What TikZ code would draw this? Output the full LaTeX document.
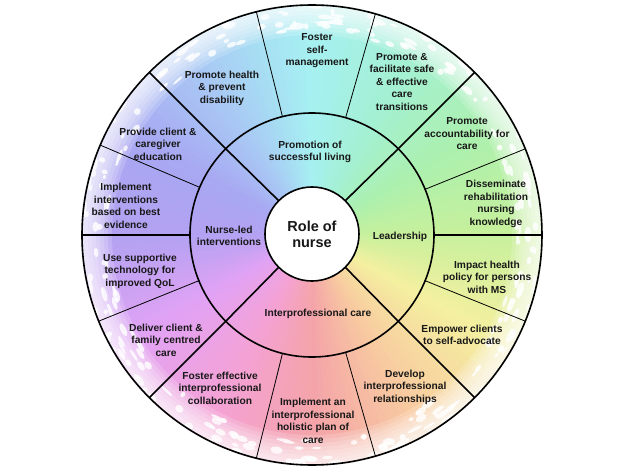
\documentclass[tikz,border=0pt]{standalone}
\usepackage{fontspec}
\setmainfont{Liberation Sans}
\usepackage{xcolor}
\usepackage{tikz}
\usetikzlibrary{calc}
\definecolor{TextoRueda}{RGB}{24,24,24}
\definecolor{wc0}{HTML}{C6F09C}
\definecolor{wc1}{HTML}{ACF0AE}
\definecolor{wc2}{HTML}{A4F0D2}
\definecolor{wc3}{HTML}{A6F0F2}
\definecolor{wc4}{HTML}{A8CCF4}
\definecolor{wc5}{HTML}{A8A8F2}
\definecolor{wc6}{HTML}{B4A2F2}
\definecolor{wc7}{HTML}{E2A2F4}
\definecolor{wc8}{HTML}{F4A2D6}
\definecolor{wc9}{HTML}{F4A4A8}
\definecolor{wc10}{HTML}{F8CCA0}
\definecolor{wc11}{HTML}{F4F0A0}

\begin{document}
\begin{tikzpicture}[x=1pt,y=1pt,
  lbl/.style={font=\bfseries\fontsize{10.2}{12.5}\selectfont,align=center,text=TextoRueda,inner sep=0pt},
  thickline/.style={line width=1.6pt},
  fineline/.style={line width=0.8pt},
  midline/.style={line width=1.2pt}]
  \useasboundingbox (-312,-234) rectangle (313,235);
  \fill[white] (-312,-234) rectangle (313,235);
  \foreach \a in {0,2,...,358}{
    \pgfmathtruncatemacro{\i}{\a/30}
    \pgfmathtruncatemacro{\j}{mod(\i+1,12)}
    \pgfmathtruncatemacro{\p}{100-(\a-30*\i)*10/3}
    \fill[wc\i!\p!wc\j] (0,0) -- (\a:231) arc[start angle=\a, end angle=\a+2.4, radius=231] -- cycle;
  }
  \foreach \r in {200,204,...,228}
    \fill[white,opacity=.17,even odd rule] (0,0) circle (\r) circle (232);
  \pgfmathsetseed{17}
  \foreach \k in {1,...,240}{
    \pgfmathsetmacro{\ang}{rnd*360}
    \pgfmathsetmacro{\rad}{204+rnd*26}
    \pgfmathsetmacro{\rx}{2+rnd*6}
    \pgfmathsetmacro{\ry}{1+rnd*2.5}
    \fill[white,opacity=.8,rotate around={\ang:(0,0)}] (\rad,0) ellipse[x radius=\ry, y radius=\rx];
  }

  \node[circle,draw,thickline,minimum size=460pt,inner sep=0pt,outer sep=0pt] (rim) at (0,0) {};
  \node[circle,draw,thickline,minimum size=244pt,inner sep=0pt,outer sep=0pt] (ring) at (0,0) {};
  \foreach \a in {45,135,225,315}
    \draw[thickline] (ring.\a) -- (rim.\a);
  \foreach \a in {74,104,256,286,22.5,-22.5,157.5,202.5}
    \draw[fineline] (ring.\a) -- (rim.\a);
  \foreach \a in {0,180}
    \draw[midline] (ring.\a) -- (rim.\a);
  \node[circle,draw,thickline,fill=white,minimum size=94pt,inner sep=0pt,outer sep=0pt,
    font=\bfseries\fontsize{14.5}{16}\selectfont,align=center,text=TextoRueda] (hub) at (0,1) {Role of\\nurse};
  \foreach \a in {45,135,225,315}
    \draw[thickline] (hub.\a) -- (ring.\a);

  \node[lbl] (living) at (-2,83) {Promotion of\\successful living};
  \node[lbl] (nurseled) at (-83,-1) {Nurse-led\\interventions};
  \node[lbl] (leader) at (88,-2) {Leadership};
  \node[lbl] (interpro) at (6,-79) {Interprofessional care};

  \node[lbl] (selfman) at (5,184) {Foster\\self-\\management};
  \node[lbl] (transit) at (90,153) {Promote \&\\facilitate safe\\\& effective\\care\\transitions};
  \node[lbl] (health) at (-90,147) {Promote health\\\& prevent\\disability};
  \node[lbl] (educ) at (-154,91) {Provide client \&\\caregiver\\education};
  \node[lbl] (evid) at (-186,29) {Implement\\interventions\\based on best\\evidence};
  \node[lbl] (tech) at (-172,-36) {Use supportive\\technology for\\improved QoL};
  \node[lbl] (family) at (-146,-105) {Deliver client \&\\family centred\\care};
  \node[lbl] (collab) at (-92,-153) {Foster effective\\interprofessional\\collaboration};
  \node[lbl] (holist) at (1,-186) {Implement an\\interprofessional\\holistic plan of\\care};
  \node[lbl] (relat) at (93,-152) {Develop\\interprofessional\\relationships};
  \node[lbl] (advoc) at (150,-100) {Empower clients\\to self-advocate};
  \node[lbl] (policy) at (175,-42) {Impact health\\policy for persons\\with MS};
  \node[lbl] (dissem) at (184,31) {Disseminate\\rehabilitation\\nursing\\knowledge};
  \node[lbl] (account) at (155,101) {Promote\\accountability for\\care};
\end{tikzpicture}
\end{document}
